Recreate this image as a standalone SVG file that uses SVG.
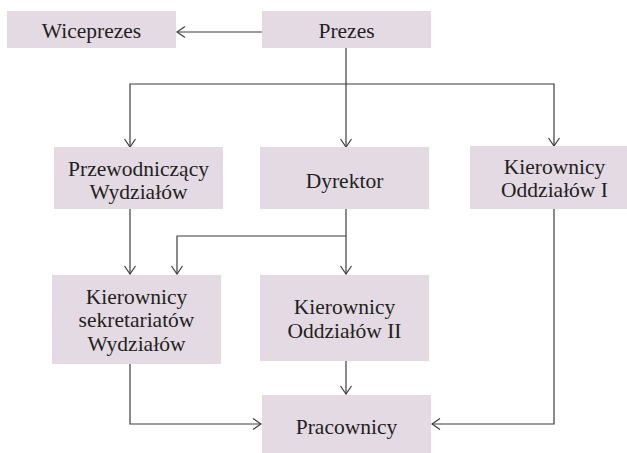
<svg xmlns="http://www.w3.org/2000/svg" width="627" height="453" viewBox="0 0 627 453">
<style>
.box{fill:#e3dae3;}
.t{font-size:21.5px;fill:#231f20;text-anchor:middle;}
.c{fill:none;stroke:#3c3c3c;stroke-width:1.2;}
</style>
<defs>
<marker id="ah" viewBox="-10 -6 11 12" markerWidth="11" markerHeight="12" refX="0" refY="0" markerUnits="userSpaceOnUse" orient="auto">
<path d="M-8,-5.5 L0,0 L-8,5.5" fill="none" stroke="#3c3c3c" stroke-width="1.2"/>
</marker>
</defs>
<rect width="627" height="453" fill="#ffffff"/>
<g id="connectors">
<path class="c" d="M262,32 H177" marker-end="url(#ah)"/>
<path class="c" d="M346,48 V147" marker-end="url(#ah)"/>
<path class="c" d="M346,84 H130 V147" marker-end="url(#ah)"/>
<path class="c" d="M346,84 H554 V146" marker-end="url(#ah)"/>
<path class="c" d="M130,209 V274" marker-end="url(#ah)"/>
<path class="c" d="M346,209 V274" marker-end="url(#ah)"/>
<path class="c" d="M346,236 H177 V274" marker-end="url(#ah)"/>
<path class="c" d="M346,361 V394" marker-end="url(#ah)"/>
<path class="c" d="M130,364 V424 H261" marker-end="url(#ah)"/>
<path class="c" d="M554,209 V424 H432" marker-end="url(#ah)"/>
</g>
<g font-family="Liberation Serif, Times New Roman, serif">
<g id="wiceprezes">
<rect class="box" x="7" y="11" width="169" height="37"/>
<text class="t" x="91.5" y="38">Wiceprezes</text>
</g>
<g id="prezes">
<rect class="box" x="262" y="11" width="169" height="37"/>
<text class="t" x="346.5" y="38">Prezes</text>
</g>
<g id="przewodniczacy">
<rect class="box" x="54" y="147" width="169" height="62"/>
<text class="t" x="138.5" y="176">Przewodniczący</text>
<text class="t" x="138.5" y="199">Wydziałów</text>
</g>
<g id="dyrektor">
<rect class="box" x="260" y="147" width="169" height="62"/>
<text class="t" x="344.5" y="188">Dyrektor</text>
</g>
<g id="kierownicy-oddzialow-1">
<rect class="box" x="470" y="146" width="169" height="63"/>
<text class="t" x="554.5" y="174">Kierownicy</text>
<text class="t" x="554.5" y="197">Oddziałów I</text>
</g>
<g id="kierownicy-sekretariatow">
<rect class="box" x="52" y="275" width="169" height="89"/>
<text class="t" x="136.5" y="304">Kierownicy</text>
<text class="t" x="136.5" y="327">sekretariatów</text>
<text class="t" x="136.5" y="351">Wydziałów</text>
</g>
<g id="kierownicy-oddzialow-2">
<rect class="box" x="260" y="275" width="169" height="86"/>
<text class="t" x="344.5" y="314">Kierownicy</text>
<text class="t" x="344.5" y="338">Oddziałów II</text>
</g>
<g id="pracownicy">
<rect class="box" x="262" y="395" width="169" height="65"/>
<text class="t" x="346.5" y="434">Pracownicy</text>
</g>
</g>
</svg>
